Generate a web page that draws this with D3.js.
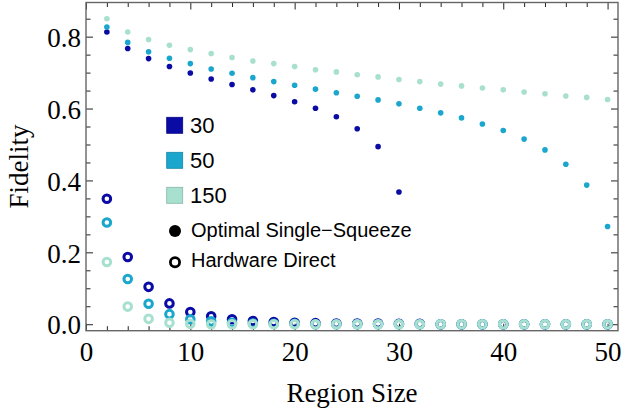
<!DOCTYPE html>
<html>
<head>
<meta charset="utf-8">
<script src="https://cdn.jsdelivr.net/npm/d3@7"></script>
<style>
    body { margin: 0; background: #fff; }
    svg { display: block; }
</style>
</head>
<body>
<svg id="chart" width="624" height="410"></svg>
<script>
// region sizes
var regionSizes = [2, 4, 6, 8, 10, 12, 14, 16, 18, 20, 22, 24, 26, 28, 30,
    32, 34, 36, 38, 40, 42, 44, 46, 48, 50];

var seriesNames = ['30', '50', '150'];
var seriesColors = ['#0a0aa4', '#1ba7cd', '#a8e0cf'];

// Optimal Single-Squeeze (filled dots)
var optimal30 = [0.813, 0.767, 0.739, 0.717, 0.699, 0.682, 0.667, 0.652, 0.636, 0.619,
    0.601, 0.577, 0.544, 0.494, 0.368];
var optimal50 = [0.827, 0.784, 0.758, 0.740, 0.725, 0.710, 0.698, 0.686, 0.675, 0.665,
    0.654, 0.644, 0.634, 0.624, 0.613, 0.601, 0.588, 0.574, 0.557, 0.539,
    0.515, 0.485, 0.445, 0.387, 0.272];
var optimal150 = [0.850, 0.813, 0.792, 0.776, 0.764, 0.753, 0.742, 0.732, 0.725, 0.717,
    0.708, 0.702, 0.694, 0.688, 0.681, 0.675, 0.668, 0.663, 0.657, 0.652,
    0.646, 0.641, 0.635, 0.631, 0.625];

// Hardware Direct (hollow circles)
var hardware30 = [0.349, 0.187, 0.104, 0.058, 0.034, 0.022, 0.014, 0.009, 0.006, 0.004,
    0.003, 0.002, 0.002, 0.002, 0.001, 0.001, 0, 0, 0, 0, 0, 0, 0, 0, 0];
var hardware50 = [0.283, 0.126, 0.057, 0.028, 0.014, 0.008, 0.004, 0.002, 0.001, 0.001,
    0, 0, 0, 0, 0, 0, 0, 0, 0, 0, 0, 0, 0, 0, 0];
var hardware150 = [0.173, 0.049, 0.015, 0.004, 0.001, 0, 0, 0, 0, 0,
    0, 0, 0, 0, 0, 0, 0, 0, 0, 0, 0, 0, 0, 0, 0];

var xMajorTicks = [0, 10, 20, 30, 40, 50];
var yMajorTicks = [0, 0.2, 0.4, 0.6, 0.8];

var optimalSeries = [optimal30, optimal50, optimal150];
var hardwareSeries = [hardware30, hardware50, hardware150];

var plotLeft = 86, plotRight = 618, plotTop = 2.5, plotBottom = 330.7;

var x = d3.scaleLinear().domain([0, 51]).range([plotLeft, plotRight]);
var y = d3.scaleLinear().domain([-0.018, 0.895]).range([plotBottom, plotTop]);

var svg = d3.select('#chart');

var serif = '"Liberation Serif", "Times New Roman", serif';
var sans = '"Liberation Sans", Arial, sans-serif';

// minor tick values from the region sizes / 0.05 steps
var xMinor = regionSizes.filter(function (d) { return d % 10 !== 0; });
var yMinor = d3.range(1, 18).map(function (i) { return i * 0.05; })
    .filter(function (d) { return Math.abs(d * 5 - Math.round(d * 5)) > 1e-6; });

function styleAxis(g) {
    g.select('.domain').remove();
    g.selectAll('.tick line').attr('stroke', '#222').attr('stroke-width', 1);
    g.selectAll('text').attr('font-family', serif).attr('font-size', 27).attr('fill', '#000');
}

// bottom
svg.append('g').attr('transform', 'translate(0,' + plotBottom + ')')
    .call(d3.axisBottom(x).tickValues(xMajorTicks).tickSize(-7).tickPadding(11).tickFormat(d3.format('d')))
    .call(styleAxis);
svg.append('g').attr('transform', 'translate(0,' + plotBottom + ')')
    .call(d3.axisBottom(x).tickValues(xMinor).tickSize(-4.5).tickFormat(''))
    .call(styleAxis);
// top
svg.append('g').attr('transform', 'translate(0,' + plotTop + ')')
    .call(d3.axisTop(x).tickValues(xMajorTicks).tickSize(-7).tickFormat(''))
    .call(styleAxis);
svg.append('g').attr('transform', 'translate(0,' + plotTop + ')')
    .call(d3.axisTop(x).tickValues(xMinor).tickSize(-4.5).tickFormat(''))
    .call(styleAxis);
// left
svg.append('g').attr('transform', 'translate(' + plotLeft + ',0)')
    .call(d3.axisLeft(y).tickValues(yMajorTicks).tickSize(-7).tickPadding(5).tickFormat(d3.format('.1f')))
    .call(styleAxis)
    .selectAll('text').attr('dy', '0.36em');
svg.append('g').attr('transform', 'translate(' + plotLeft + ',0)')
    .call(d3.axisLeft(y).tickValues(yMinor).tickSize(-4.5).tickFormat(''))
    .call(styleAxis);
// right
svg.append('g').attr('transform', 'translate(' + plotRight + ',0)')
    .call(d3.axisRight(y).tickValues(yMajorTicks).tickSize(-7).tickFormat(''))
    .call(styleAxis);
svg.append('g').attr('transform', 'translate(' + plotRight + ',0)')
    .call(d3.axisRight(y).tickValues(yMinor).tickSize(-4.5).tickFormat(''))
    .call(styleAxis);

// frame
svg.append('rect')
    .attr('x', plotLeft).attr('y', plotTop)
    .attr('width', plotRight - plotLeft).attr('height', plotBottom - plotTop)
    .attr('fill', 'none').attr('stroke', '#666').attr('stroke-width', 1.4);

// hollow circles
hardwareSeries.forEach(function (vals, s) {
    svg.append('g').selectAll('circle')
        .data(vals)
        .enter()
        .append('circle')
        .attr('cx', function (d, i) { return x(regionSizes[i]); })
        .attr('cy', function (d) { return y(d); })
        .attr('r', 3.8)
        .attr('fill', 'none')
        .attr('stroke', seriesColors[s])
        .attr('stroke-width', 3);
});

// filled dots
optimalSeries.forEach(function (vals, s) {
    svg.append('g').selectAll('circle')
        .data(vals)
        .enter()
        .append('circle')
        .attr('cx', function (d, i) { return x(regionSizes[i]); })
        .attr('cy', function (d) { return y(d); })
        .attr('r', 2.8)
        .attr('fill', seriesColors[s]);
});

// legend
var legend = svg.append('g');
seriesNames.forEach(function (name, i) {
    var yy = 117.3 + i * 35;
    legend.append('rect')
        .attr('x', 166.7).attr('y', yy)
        .attr('width', 16).attr('height', 16)
        .attr('fill', seriesColors[i])
        .attr('stroke', d3.color(seriesColors[i]).darker(0.6))
        .attr('stroke-width', 0.8);
    legend.append('text')
        .attr('x', 190).attr('y', yy + 16)
        .attr('font-family', sans).attr('font-size', 22)
        .text(name);
});

legend.append('circle')
    .attr('cx', 175).attr('cy', 231).attr('r', 6)
    .attr('fill', '#000');
legend.append('text')
    .attr('x', 191).attr('y', 237.3)
    .attr('font-family', sans).attr('font-size', 20)
    .text('Optimal Single\u2212Squeeze');

legend.append('circle')
    .attr('cx', 175).attr('cy', 262.3).attr('r', 4.6)
    .attr('fill', 'none').attr('stroke', '#000').attr('stroke-width', 2.8);
legend.append('text')
    .attr('x', 191).attr('y', 266.5)
    .attr('font-family', sans).attr('font-size', 20)
    .text('Hardware Direct');

// axis titles
svg.append('text')
    .attr('x', (plotLeft + plotRight) / 2).attr('y', 401.7)
    .attr('text-anchor', 'middle')
    .attr('font-family', serif).attr('font-size', 27)
    .text('Region Size');

svg.append('text')
    .attr('transform', 'translate(28.3,' + (plotTop + plotBottom) / 2 + ') rotate(-90)')
    .attr('text-anchor', 'middle')
    .attr('font-family', serif).attr('font-size', 27)
    .text('Fidelity');
</script>
</body>
</html>
